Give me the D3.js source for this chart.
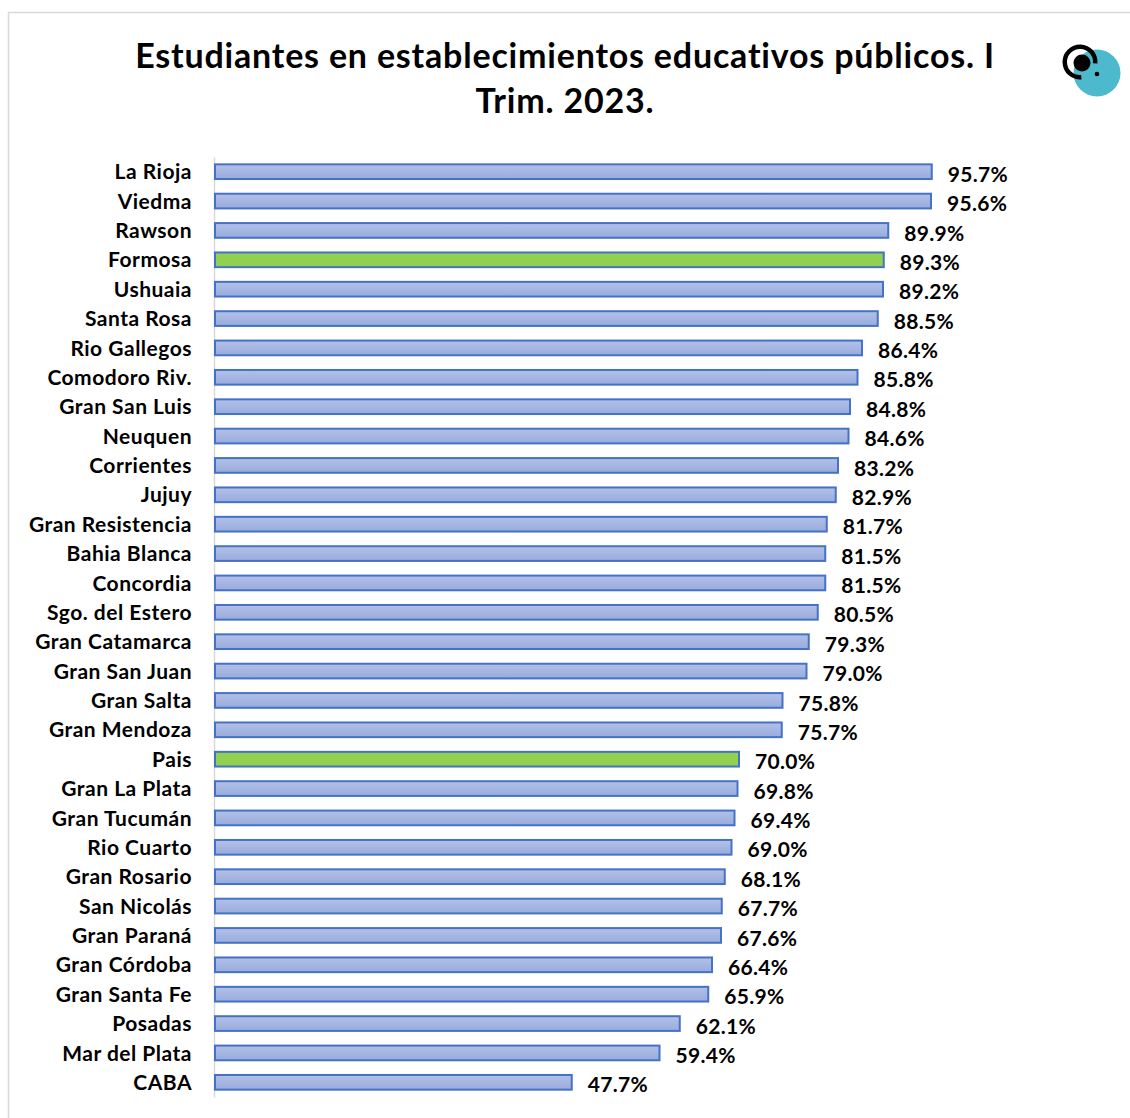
<!DOCTYPE html>
<html><head><meta charset="utf-8">
<script src="https://cdn.jsdelivr.net/npm/d3@7"></script>
<style>body{margin:0;background:#fff}svg{display:block}</style>
</head><body>
<script>
const categories = ["La Rioja","Viedma","Rawson","Formosa","Ushuaia","Santa Rosa","Rio Gallegos","Comodoro Riv.","Gran San Luis","Neuquen","Corrientes","Jujuy","Gran Resistencia","Bahia Blanca","Concordia","Sgo. del Estero","Gran Catamarca","Gran San Juan","Gran Salta","Gran Mendoza","Pais","Gran La Plata","Gran Tucumán","Rio Cuarto","Gran Rosario","San Nicolás","Gran Paraná","Gran Córdoba","Gran Santa Fe","Posadas","Mar del Plata","CABA"];
const values = [95.7,95.6,89.9,89.3,89.2,88.5,86.4,85.8,84.8,84.6,83.2,82.9,81.7,81.5,81.5,80.5,79.3,79.0,75.8,75.7,70.0,69.8,69.4,69.0,68.1,67.7,67.6,66.4,65.9,62.1,59.4,47.7];
const highlighted = ["Formosa","Pais"];
const titleLines = ["Estudiantes en establecimientos educativos públicos. I","Trim. 2023."];

const W=1130,H=1118;
const font="Lato, 'Open Sans', sans-serif";
const svg=d3.select("body").append("svg").attr("width",W).attr("height",H);
const defs=svg.append("defs");
const g1=defs.append("linearGradient").attr("id","blueGrad").attr("x1",0).attr("y1",0).attr("x2",0).attr("y2",1);
g1.append("stop").attr("offset","0%").attr("stop-color","#b3c1e8");
g1.append("stop").attr("offset","100%").attr("stop-color","#98abdc");

svg.append("rect").attr("x",8.5).attr("y",12.5).attr("width",W+10).attr("height",H+10)
  .attr("fill","#fff").attr("stroke","#d9d9d9").attr("stroke-width",1.5);

// title
svg.append("text").attr("x",565).attr("text-anchor","middle").attr("font-family",font)
  .attr("font-weight","bold").attr("font-size",34).attr("letter-spacing",0.8).attr("fill","#000")
  .selectAll("tspan").data(titleLines).join("tspan")
  .attr("x",565).attr("y",(d,i)=>68+i*45).text(d=>d);

// logo
const logo=svg.append("g");
logo.append("circle").attr("cx",1097).attr("cy",73).attr("r",23.5).attr("fill","#4cb9cc");
const arc=d3.arc().innerRadius(13).outerRadius(17.5).startAngle(175*Math.PI/180).endAngle(455*Math.PI/180);
logo.append("path").attr("d",arc()).attr("transform","translate(1080,62)").attr("fill","#000");
logo.append("circle").attr("cx",1082).attr("cy",63).attr("r",8.5).attr("fill","#000");
logo.append("circle").attr("cx",1097).attr("cy",74).attr("r",2.3).attr("fill","#000");

const x0=214;
const x=d3.scaleLinear().domain([0,100]).range([x0,x0+750]);
const y=d3.scaleBand().domain(categories).range([157,1097]).paddingInner(0.5).paddingOuter(0.25);

const yAxis=svg.append("g").attr("transform",`translate(${x0},0)`)
  .call(d3.axisLeft(y).tickSize(0).tickPadding(22));
yAxis.select(".domain").attr("stroke","#d9d9d9").attr("stroke-width",1.5);
yAxis.selectAll("text").attr("font-family",font).attr("font-weight","bold").attr("font-size",21)
  .attr("letter-spacing",0.5).attr("dy","0.36em").attr("fill","#000");

svg.append("g").selectAll("rect").data(categories).join("rect")
  .attr("x",x(0)+1).attr("y",d=>y(d)).attr("height",y.bandwidth())
  .attr("width",(d,i)=>x(values[i])-x(0)-1)
  .attr("fill",d=>highlighted.includes(d)?"#92d050":"url(#blueGrad)")
  .attr("stroke","#4472c4").attr("stroke-width",2);

svg.append("g").selectAll("text").data(categories).join("text")
  .attr("x",(d,i)=>x(values[i])+16).attr("y",d=>y(d)+y.bandwidth()/2).attr("dy","0.48em")
  .attr("font-family",font).attr("font-weight","bold").attr("font-size",21).attr("letter-spacing",0.3).attr("fill","#000")
  .text((d,i)=>values[i].toFixed(1)+"%");
</script>
</body></html>
